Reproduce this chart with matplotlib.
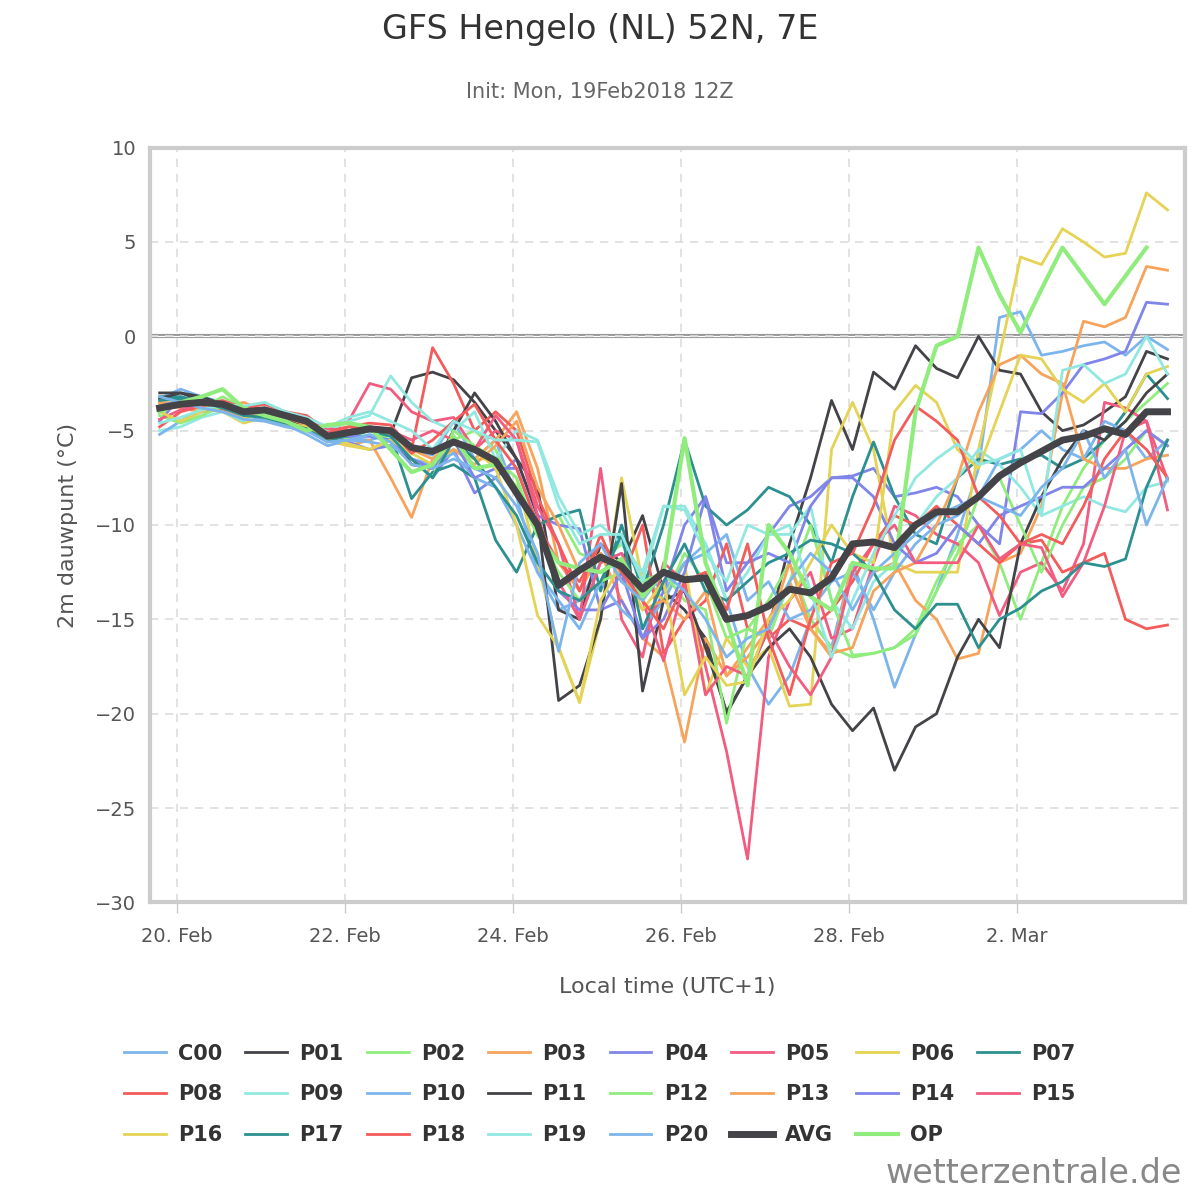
import numpy as np
import pandas as pd
import matplotlib.pyplot as plt
import matplotlib.dates as mdates

# ------------------------------------------------------------------ DATA
# 6-hourly steps, local time (UTC+1), first step 19 Feb 19:00
times = pd.date_range('2018-02-19 19:00', periods=49, freq='6h')

members = {
    'C00': [-3.3,-2.8,-3.2,-3.5,-3.8,-4.0,-4.3,-4.6,-5.1,-5.4,-5.5,-5.2,-6.0,-6.3,-4.5,-6.5,-5.5,
            -8.5,-12.5,-14.5,-14.0,-12.0,-11.5,-12.5,-13.5,-12.0,-11.0,-14.0,-17.5,-19.5,-18.0,-15.0,-16.5,
            -12.0,-15.0,-18.6,-15.8,-13.5,-10.5,-7.0,1.0,1.3,-1.0,-0.8,-0.5,-0.3,-1.0,0.0,-0.7],
    'P01': [-3.0,-3.0,-3.2,-3.6,-4.0,-3.9,-4.2,-4.6,-5.3,-5.0,-4.8,-5.2,-2.2,-1.9,-2.3,-3.5,-5.0,
            -6.5,-8.0,-14.5,-15.0,-11.0,-12.0,-9.5,-13.5,-14.5,-16.0,-20.0,-18.0,-15.5,-11.0,-7.5,-3.4,
            -6.0,-1.9,-2.8,-0.5,-1.7,-2.2,0.0,-1.8,-2.0,-4.0,-5.0,-4.7,-4.0,-3.2,-0.8,-1.2],
    'P02': [-4.0,-4.5,-3.8,-3.2,-3.8,-4.0,-4.4,-4.8,-5.5,-5.4,-5.0,-5.5,-6.5,-7.0,-5.5,-5.0,-6.0,
            -8.5,-10.0,-9.5,-11.5,-12.0,-11.0,-12.5,-14.0,-11.5,-13.0,-16.0,-15.5,-14.0,-12.0,-15.0,-16.5,
            -17.0,-16.8,-16.5,-15.5,-13.0,-11.0,-10.0,-12.0,-15.0,-12.0,-9.0,-7.0,-5.5,-4.5,-3.5,-2.5],
    'P03': [-3.5,-3.8,-4.0,-3.8,-3.5,-4.0,-4.5,-4.8,-5.5,-5.8,-5.5,-7.5,-9.6,-6.5,-5.5,-6.5,-5.5,
            -4.0,-7.0,-12.0,-13.5,-11.5,-14.0,-16.0,-17.0,-21.5,-16.0,-18.0,-16.5,-15.0,-13.0,-15.5,-17.0,
            -12.0,-12.5,-12.0,-14.0,-15.0,-17.1,-16.8,-12.0,-11.5,-9.0,-3.0,0.8,0.5,1.0,3.7,3.5],
    'P04': [-4.5,-3.2,-3.5,-3.9,-4.3,-4.1,-4.3,-4.7,-5.2,-5.6,-6.0,-5.8,-6.5,-7.5,-6.0,-8.3,-7.5,
            -6.5,-9.5,-10.0,-10.2,-14.5,-14.0,-16.0,-13.5,-10.0,-8.5,-12.0,-12.0,-10.5,-9.0,-8.5,-7.5,
            -7.4,-7.0,-8.5,-8.3,-8.0,-8.5,-10.0,-11.0,-4.0,-4.1,-3.0,-1.5,-1.2,-0.8,1.8,1.7],
    'P05': [-3.8,-3.5,-3.6,-3.9,-4.1,-4.0,-4.3,-4.5,-5.0,-4.5,-2.5,-2.8,-4.0,-4.5,-4.3,-6.0,-5.0,
            -5.5,-9.0,-11.0,-15.0,-7.0,-15.0,-17.0,-12.0,-13.0,-17.5,-22.0,-27.7,-17.0,-14.0,-12.5,-16.0,
            -15.5,-12.0,-9.0,-9.5,-10.5,-11.0,-12.0,-14.8,-12.5,-12.0,-13.5,-11.0,-3.5,-3.8,-4.5,-7.6],
    'P06': [-3.6,-3.4,-3.7,-4.0,-4.6,-4.3,-4.6,-5.0,-5.5,-5.8,-6.0,-5.5,-6.5,-7.0,-6.0,-6.5,-6.5,
            -7.5,-12.0,-16.5,-19.4,-15.0,-7.5,-13.0,-14.0,-12.0,-19.0,-16.0,-17.5,-16.5,-19.6,-19.5,-6.0,
            -3.5,-6.0,-12.0,-12.5,-12.5,-12.5,-6.0,-1.0,4.2,3.8,5.7,5.0,4.2,4.4,7.6,6.7],
    'P07': [-3.2,-3.2,-3.5,-3.8,-4.1,-4.2,-4.6,-5.0,-5.4,-5.3,-5.0,-5.2,-8.6,-7.2,-6.8,-7.5,-10.8,
            -12.5,-10.0,-9.5,-9.2,-13.5,-10.0,-13.5,-10.0,-5.5,-9.0,-10.0,-9.2,-8.0,-8.5,-10.0,-12.0,
            -8.5,-5.6,-8.5,-10.5,-11.0,-7.5,-6.5,-6.8,-6.5,-6.3,-7.0,-6.5,-5.5,-4.0,-2.0,-3.3],
    'P08': [-4.8,-4.0,-3.7,-3.4,-3.8,-3.6,-4.0,-4.2,-5.0,-4.8,-4.6,-4.7,-6.0,-0.6,-2.5,-5.0,-4.0,
            -5.0,-8.5,-11.0,-13.5,-10.5,-13.0,-10.0,-16.8,-15.0,-14.0,-11.0,-15.5,-16.0,-15.0,-15.5,-14.5,
            -13.0,-11.0,-9.5,-10.0,-9.0,-10.0,-11.0,-12.0,-11.0,-10.8,-12.5,-12.0,-11.5,-15.0,-15.5,-15.3],
    'P09': [-5.0,-4.8,-4.3,-4.0,-4.5,-3.8,-4.3,-4.5,-5.0,-4.5,-4.2,-2.1,-3.5,-4.5,-5.0,-4.0,-6.5,
            -5.0,-5.5,-8.5,-10.5,-10.0,-11.0,-12.5,-9.0,-9.0,-11.0,-14.0,-12.5,-10.5,-10.5,-9.0,-14.0,
            -15.5,-13.0,-12.0,-10.0,-8.5,-7.5,-6.0,-6.8,-8.0,-9.5,-9.0,-8.5,-9.0,-9.3,-8.0,-7.7],
    'P10': [-5.2,-4.5,-4.0,-3.6,-4.2,-4.4,-4.7,-5.2,-5.8,-5.5,-5.6,-5.8,-6.5,-6.8,-6.2,-7.5,-8.0,
            -10.0,-12.5,-14.0,-15.5,-13.0,-14.5,-15.5,-14.0,-12.0,-11.5,-10.5,-14.0,-13.0,-15.0,-14.5,-13.0,
            -12.5,-14.5,-12.5,-11.0,-10.0,-9.5,-8.5,-6.5,-6.0,-5.0,-6.0,-6.5,-4.5,-5.0,-6.5,-5.5],
    'P11': [-3.3,-3.0,-3.4,-3.7,-4.0,-4.2,-4.4,-4.7,-5.4,-5.2,-5.0,-5.2,-6.8,-7.0,-5.0,-3.0,-4.5,
            -6.5,-9.5,-19.3,-18.5,-15.0,-7.8,-18.8,-14.0,-13.5,-16.5,-19.9,-18.0,-16.5,-15.5,-17.0,-19.5,
            -20.9,-19.7,-23.0,-20.7,-20.0,-17.0,-15.0,-16.5,-11.0,-8.5,-6.5,-5.0,-5.5,-4.5,-3.0,-2.0],
    'P12': [-4.2,-4.6,-4.2,-3.7,-4.1,-4.3,-4.6,-5.0,-5.5,-5.0,-4.8,-5.2,-6.5,-7.5,-5.0,-5.8,-6.5,
            -7.5,-10.5,-12.5,-14.0,-13.0,-12.5,-13.0,-12.5,-14.0,-14.5,-20.5,-15.5,-16.0,-13.0,-10.0,-14.0,
            -16.9,-16.8,-16.5,-15.8,-13.5,-11.5,-8.5,-7.5,-10.0,-12.5,-10.0,-8.0,-7.5,-6.5,-5.0,-5.8],
    'P13': [-3.5,-3.6,-3.8,-4.0,-4.2,-4.0,-4.3,-4.7,-5.2,-5.1,-5.0,-5.2,-6.0,-6.5,-6.0,-6.8,-5.8,
            -4.5,-8.0,-10.0,-12.5,-11.5,-12.5,-14.5,-14.0,-15.0,-13.5,-18.0,-17.0,-15.5,-12.0,-15.5,-16.8,
            -16.5,-13.5,-12.5,-12.0,-10.0,-7.5,-4.0,-1.5,-1.0,-2.0,-2.5,-6.5,-7.0,-7.0,-6.5,-6.3],
    'P14': [-3.7,-3.4,-3.4,-3.7,-4.1,-4.0,-4.3,-4.6,-5.2,-5.3,-5.3,-5.5,-6.5,-7.0,-5.5,-7.5,-7.0,
            -7.0,-10.0,-13.5,-14.5,-14.5,-12.5,-16.0,-15.0,-12.5,-8.5,-13.5,-12.0,-11.5,-12.0,-9.0,-7.5,
            -7.5,-8.5,-11.0,-12.0,-11.5,-10.0,-11.0,-9.5,-9.0,-8.5,-8.0,-8.0,-7.0,-6.0,-5.0,-5.8],
    'P15': [-4.4,-3.9,-3.6,-3.6,-4.0,-3.8,-4.1,-4.4,-4.9,-5.0,-4.8,-5.0,-5.5,-5.0,-5.5,-6.0,-4.2,
            -5.5,-9.5,-13.0,-15.0,-12.0,-11.5,-14.0,-17.2,-13.0,-19.0,-17.5,-18.0,-15.5,-17.5,-19.0,-17.0,
            -12.5,-11.0,-10.0,-12.0,-12.0,-12.0,-10.0,-11.8,-11.0,-11.2,-13.8,-12.0,-9.0,-5.0,-4.5,-9.2],
    'P16': [-4.0,-4.5,-4.0,-3.5,-4.3,-4.2,-4.6,-4.8,-5.3,-5.7,-6.0,-5.5,-6.2,-6.8,-5.5,-6.0,-7.0,
            -10.0,-14.8,-16.5,-19.4,-14.0,-12.0,-14.5,-13.0,-19.0,-17.0,-18.5,-18.3,-15.0,-14.0,-12.0,-10.0,
            -11.5,-12.0,-4.0,-2.6,-3.5,-6.0,-7.0,-4.0,-1.0,-1.2,-2.8,-3.5,-2.5,-4.0,-2.0,-1.6],
    'P17': [-3.4,-3.3,-3.5,-3.8,-4.2,-4.3,-4.6,-4.9,-5.6,-5.2,-5.0,-5.3,-6.5,-7.5,-5.5,-6.5,-8.0,
            -9.5,-12.0,-13.5,-14.0,-13.0,-10.5,-15.5,-13.0,-11.0,-13.5,-14.0,-13.0,-12.0,-11.5,-10.8,-11.0,
            -11.5,-12.5,-14.5,-15.5,-14.2,-14.2,-16.5,-15.0,-14.4,-13.5,-13.0,-12.0,-12.2,-11.8,-8.0,-5.5],
    'P18': [-3.9,-3.7,-3.5,-3.5,-3.9,-4.0,-4.3,-4.6,-5.1,-4.8,-4.8,-5.0,-6.2,-5.5,-4.5,-3.6,-5.5,
            -7.0,-10.0,-12.0,-13.0,-11.0,-12.5,-14.0,-15.5,-13.0,-12.5,-14.5,-11.0,-16.0,-19.0,-15.0,-12.0,
            -11.5,-9.0,-5.5,-3.7,-4.5,-5.5,-8.5,-9.5,-11.0,-10.5,-11.0,-9.0,-6.5,-5.0,-6.0,-7.5],
    'P19': [-4.6,-4.3,-3.9,-3.6,-3.7,-3.5,-4.0,-4.3,-4.8,-4.3,-4.0,-4.5,-5.0,-6.0,-4.5,-5.0,-5.5,
            -5.5,-5.6,-9.0,-11.0,-10.5,-10.5,-13.0,-9.0,-9.2,-11.5,-13.0,-10.0,-10.5,-10.0,-13.5,-17.0,
            -14.0,-11.5,-9.5,-7.5,-6.5,-5.7,-6.8,-6.5,-6.0,-9.5,-1.8,-1.5,-2.5,-2.0,0.0,-2.0],
    'P20': [-3.2,-3.5,-3.8,-4.0,-4.4,-4.5,-4.8,-5.0,-5.6,-5.5,-5.2,-5.6,-6.8,-7.0,-6.5,-7.0,-7.5,
            -9.0,-11.5,-16.7,-12.0,-11.0,-13.0,-14.0,-12.5,-13.5,-15.0,-17.0,-16.0,-15.5,-13.0,-11.5,-12.5,
            -14.5,-12.5,-11.5,-10.5,-9.5,-9.0,-8.5,-9.0,-9.5,-8.0,-7.0,-5.0,-7.5,-6.0,-10.0,-7.5],
}

avg = [-3.8,-3.6,-3.5,-3.6,-4.0,-3.9,-4.2,-4.5,-5.3,-5.1,-4.9,-5.0,-5.9,-6.1,-5.6,-6.0,-6.6,
       -8.3,-10.0,-13.2,-12.4,-11.7,-12.2,-13.4,-12.5,-12.9,-12.8,-15.0,-14.8,-14.3,-13.4,-13.6,-12.8,
       -11.0,-10.9,-11.2,-10.0,-9.3,-9.3,-8.5,-7.4,-6.7,-6.1,-5.5,-5.3,-4.9,-5.2,-4.0,-4.0]

op = [-4.0,-3.5,-3.2,-2.8,-3.8,-4.2,-4.5,-5.0,-4.7,-4.6,-4.8,-6.0,-7.2,-6.8,-5.3,-7.0,-6.8,
      -8.0,-10.5,-12.0,-12.3,-12.5,-11.8,-13.8,-12.5,-5.4,-12.0,-15.0,-18.5,-10.0,-11.5,-13.8,-14.5,
      -12.0,-12.3,-12.3,-4.0,-0.5,0.0,4.7,2.2,0.2,2.5,4.7,3.2,1.7,3.2,4.7,np.nan]

palette = ['#7cb5ec', '#434348', '#90ed7d', '#f7a35c', '#8085e9',
           '#f15c80', '#e4d354', '#2b908f', '#f45b5b', '#91e8e1']

# ---------------------------------------------------------------- FIGURE
fig = plt.figure(figsize=(12, 12), dpi=100)
ax = fig.add_axes([0.125, 0.248, 0.8625, 0.629])

handles = []
for k, (name, vals) in enumerate(members.items()):
    h, = ax.plot(times, vals, color=palette[k % 10], lw=2, label=name, zorder=2)
    handles.append(h)
h, = ax.plot(times, avg, color='#434348', lw=5, label='AVG', zorder=4)
handles.append(h)
h, = ax.plot(times, op, color='#90ed7d', lw=3, label='OP', zorder=3)
handles.append(h)

ax.axhline(0, color='#999999', lw=3, zorder=1)
ax.axhline(0, color='white', lw=0.8, zorder=1)

ax.set_ylim(-30, 10)
ax.set_xlim(pd.Timestamp('2018-02-19 16:15'), pd.Timestamp('2018-03-04 00:00'))
ax.set_yticks(range(-30, 11, 5))
ax.xaxis.set_major_locator(mdates.DayLocator(bymonthday=[20, 22, 24, 26, 28, 2]))
ax.xaxis.set_major_formatter(
    plt.FuncFormatter(lambda v, p: mdates.num2date(v).strftime('%-d. %b')))
ax.grid(True, color='#dddddd', ls=(0, (5, 4)), lw=1.2)
ax.tick_params(axis='both', labelsize=14, colors='#555555', length=0, pad=10)
ax.tick_params(axis='x', length=8, color='#cccccc', width=1)
for sp in ax.spines.values():
    sp.set_color('#cccccc')
    sp.set_linewidth(3)

ax.set_ylabel('2m dauwpunt (°C)', fontsize=16, color='#555555', labelpad=12)
ax.set_xlabel('Local time (UTC+1)', fontsize=16, color='#555555', labelpad=22)

fig.text(0.5, 0.975, 'GFS Hengelo (NL) 52N, 7E', ha='center', va='center',
         fontsize=24, color='#333333')
fig.text(0.5, 0.923, 'Init: Mon, 19Feb2018 12Z', ha='center', va='center',
         fontsize=15, color='#666666')

# legend in row order, 8 columns
order = [r * 8 + c for c in range(8) for r in range(3) if r * 8 + c < len(handles)]
leg = fig.legend([handles[i] for i in order], [handles[i].get_label() for i in order],
                 loc='center', bbox_to_anchor=(0.5, 0.088), ncol=8, frameon=False,
                 prop={'weight': 'bold', 'size': 15}, handlelength=2.0,
                 handletextpad=0.6, columnspacing=1.1, labelspacing=1.0)
for t in leg.get_texts():
    t.set_color('#333333')

fig.text(0.985, 0.008, 'wetterzentrale.de', ha='right', va='bottom',
         fontsize=24, color='#888888')

plt.savefig('out.png', dpi=100)
